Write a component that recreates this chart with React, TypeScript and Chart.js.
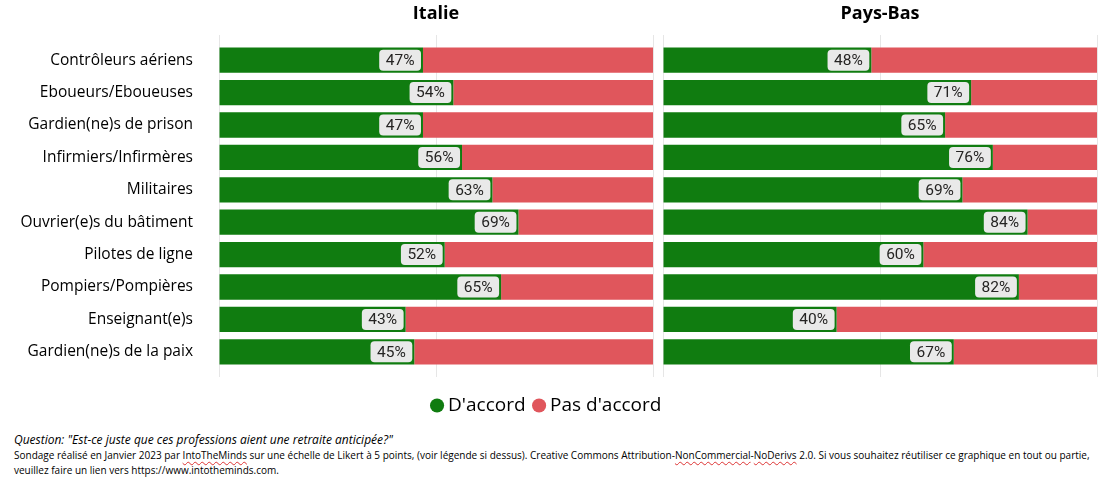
import React, { useEffect, useRef } from "react";
import { Chart, registerables } from "chart.js";

Chart.register(...registerables);

const categories = [
  "Contrôleurs aériens",
  "Eboueurs/Eboueuses",
  "Gardien(ne)s de prison",
  "Infirmiers/Infirmères",
  "Militaires",
  "Ouvrier(e)s du bâtiment",
  "Pilotes de ligne",
  "Pompiers/Pompières",
  "Enseignant(e)s",
  "Gardien(ne)s de la paix",
];

const panelTitles = ["Italie", "Pays-Bas"];
const seriesNames = ["D'accord", "Pas d'accord"];

const italieAccord = [47, 54, 47, 56, 63, 69, 52, 65, 43, 45];
const italiePasAccord = [53, 46, 53, 44, 37, 31, 48, 35, 57, 55];
const paysBasAccord = [48, 71, 65, 76, 69, 84, 60, 82, 40, 67];
const paysBasPasAccord = [52, 29, 35, 24, 31, 16, 40, 18, 60, 33];

const GREEN = "#107C10";
const RED = "#E0565C";
const GRID = "#e6e6e6";
const TEXT = "#252423";

const labelPlugin = {
  id: "boxLabels",
  afterDatasetsDraw(chart: any) {
    const ctx = chart.ctx;
    ctx.save();
    ctx.font = "15.5px Roboto";
    ctx.textAlign = "center";
    ctx.textBaseline = "middle";
    chart.data.datasets.forEach((ds: any, di: number) => {
      if (!ds.showLabel) return;
      const meta = chart.getDatasetMeta(di);
      meta.data.forEach((bar: any, i: number) => {
        const txt = ds.data[i] + "%";
        const tw = ctx.measureText(txt).width;
        const w = tw + 13;
        const h = 21;
        const right = bar.x - 2;
        const left = right - w;
        const top = bar.y - h / 2;
        ctx.fillStyle = "#E9E9E9";
        ctx.beginPath();
        ctx.roundRect(left, top, w, h, 4);
        ctx.fill();
        ctx.fillStyle = TEXT;
        ctx.fillText(txt, left + w / 2, bar.y + 1);
      });
    });
    ctx.restore();
  },
};

function topAxis(title: string, weight: number) {
  return {
    type: "linear",
    position: "top",
    stack: "top",
    stackWeight: 1,
    weight,
    min: 0,
    max: 100,
    stacked: true,
    ticks: { display: false, stepSize: 50 },
    grid: { color: GRID, tickLength: 9, drawTicks: true },
    border: { display: false },
    title: {
      display: true,
      text: title,
      color: "#000",
      font: { family: "'Open Sans'", size: 18, weight: "bold" },
      padding: { top: 3, bottom: 0 },
    },
    afterFit: (s: any) => {
      s.height = 44;
    },
  };
}

function bottomAxis(weight: number) {
  return {
    type: "linear",
    position: "bottom",
    stack: "bottom",
    stackWeight: 1,
    weight,
    min: 0,
    max: 100,
    ticks: { display: false, stepSize: 50 },
    grid: { color: GRID, tickLength: 9, drawTicks: true, drawOnChartArea: false },
    border: { display: false },
    afterFit: (s: any) => {
      s.height = 16;
    },
  };
}

function gapAxis(pos: string, weight: number, h: number) {
  return {
    type: "linear",
    position: pos,
    stack: pos,
    stackWeight: 10 / 434,
    weight,
    ticks: { display: false },
    grid: { display: false },
    border: { display: false },
    afterFit: (s: any) => {
      s.height = h;
    },
  };
}

export default function App() {
  const ref = useRef<HTMLCanvasElement>(null);

  useEffect(() => {
    document.body.style.margin = "0";
    const chart = new Chart(ref.current!, {
      type: "bar",
      data: {
        labels: categories,
        datasets: [
          {
            label: seriesNames[0],
            data: italieAccord,
            backgroundColor: GREEN,
            xAxisID: "xIt",
            stack: "s",
            showLabel: true,
          } as any,
          {
            label: seriesNames[1],
            data: italiePasAccord,
            backgroundColor: RED,
            xAxisID: "xIt",
            stack: "s",
          },
          {
            label: seriesNames[0],
            data: paysBasAccord,
            backgroundColor: GREEN,
            xAxisID: "xNl",
            stack: "s",
            showLabel: true,
          } as any,
          {
            label: seriesNames[1],
            data: paysBasPasAccord,
            backgroundColor: RED,
            xAxisID: "xNl",
            stack: "s",
          },
        ],
      },
      options: {
        indexAxis: "y",
        animation: false,
        responsive: false,
        maintainAspectRatio: false,
        layout: { padding: { left: 0, right: 7, top: 0, bottom: 0 } },
        datasets: {
          bar: { barPercentage: 0.78, categoryPercentage: 1, borderWidth: 0 },
        },
        scales: {
          y: {
            type: "category",
            stacked: true,
            grid: { display: false },
            border: { display: false },
            ticks: {
              color: "#000",
              padding: 18,
              font: { family: "'Open Sans'", size: 15.5 },
            },
            afterFit: (s: any) => {
              s.width = 219;
            },
          },
          xIt: topAxis(panelTitles[0], 3),
          xGapTop: gapAxis("top", 2, 44),
          xNl: topAxis(panelTitles[1], 1),
          xbIt: bottomAxis(1),
          xGapBot: gapAxis("bottom", 2, 16),
          xbNl: bottomAxis(3),
        } as any,
        plugins: {
          title: { display: false },
          tooltip: { enabled: false },
          legend: {
            display: true,
            position: "bottom",
            labels: {
              filter: (item: any) => item.datasetIndex < 2,
              usePointStyle: true,
              pointStyle: "circle",
              boxHeight: 10,
              boxWidth: 3,
              padding: 12,
              color: "#000",
              font: { family: "'Open Sans'", size: 19 },
            },
          },
        },
      },
      plugins: [labelPlugin],
    });
    return () => chart.destroy();
  }, []);

  const wavy: React.CSSProperties = {
    textDecoration: "underline wavy #d33",
    textUnderlineOffset: "2px",
  };

  return (
    <div style={{ position: "relative", width: 1104, height: 494, background: "#fff" }}>
      <canvas ref={ref} width={1104} height={425} style={{ display: "block" }} />
      <div
        style={{
          position: "absolute",
          left: 14,
          top: 431,
          fontFamily: "'Open Sans'",
          color: "#000",
        }}
      >
        <div style={{ fontStyle: "italic", fontSize: 12, lineHeight: "17px" }}>
          Question: "Est-ce juste que ces professions aient une retraite anticipée?"
        </div>
        <div style={{ fontSize: 10, lineHeight: "15px", whiteSpace: "nowrap" }}>
          Sondage réalisé en Janvier 2023 par <span style={wavy}>IntoTheMinds</span> sur une échelle
          de Likert à 5 points, (voir légende si dessus). Creative Commons Attribution-
          <span style={wavy}>NonCommercial</span>-<span style={wavy}>NoDerivs</span> 2.0. Si vous
          souhaitez réutiliser ce graphique en tout ou partie,
          <br />
          veuillez faire un lien vers https://www.intotheminds.com.
        </div>
      </div>
    </div>
  );
}
